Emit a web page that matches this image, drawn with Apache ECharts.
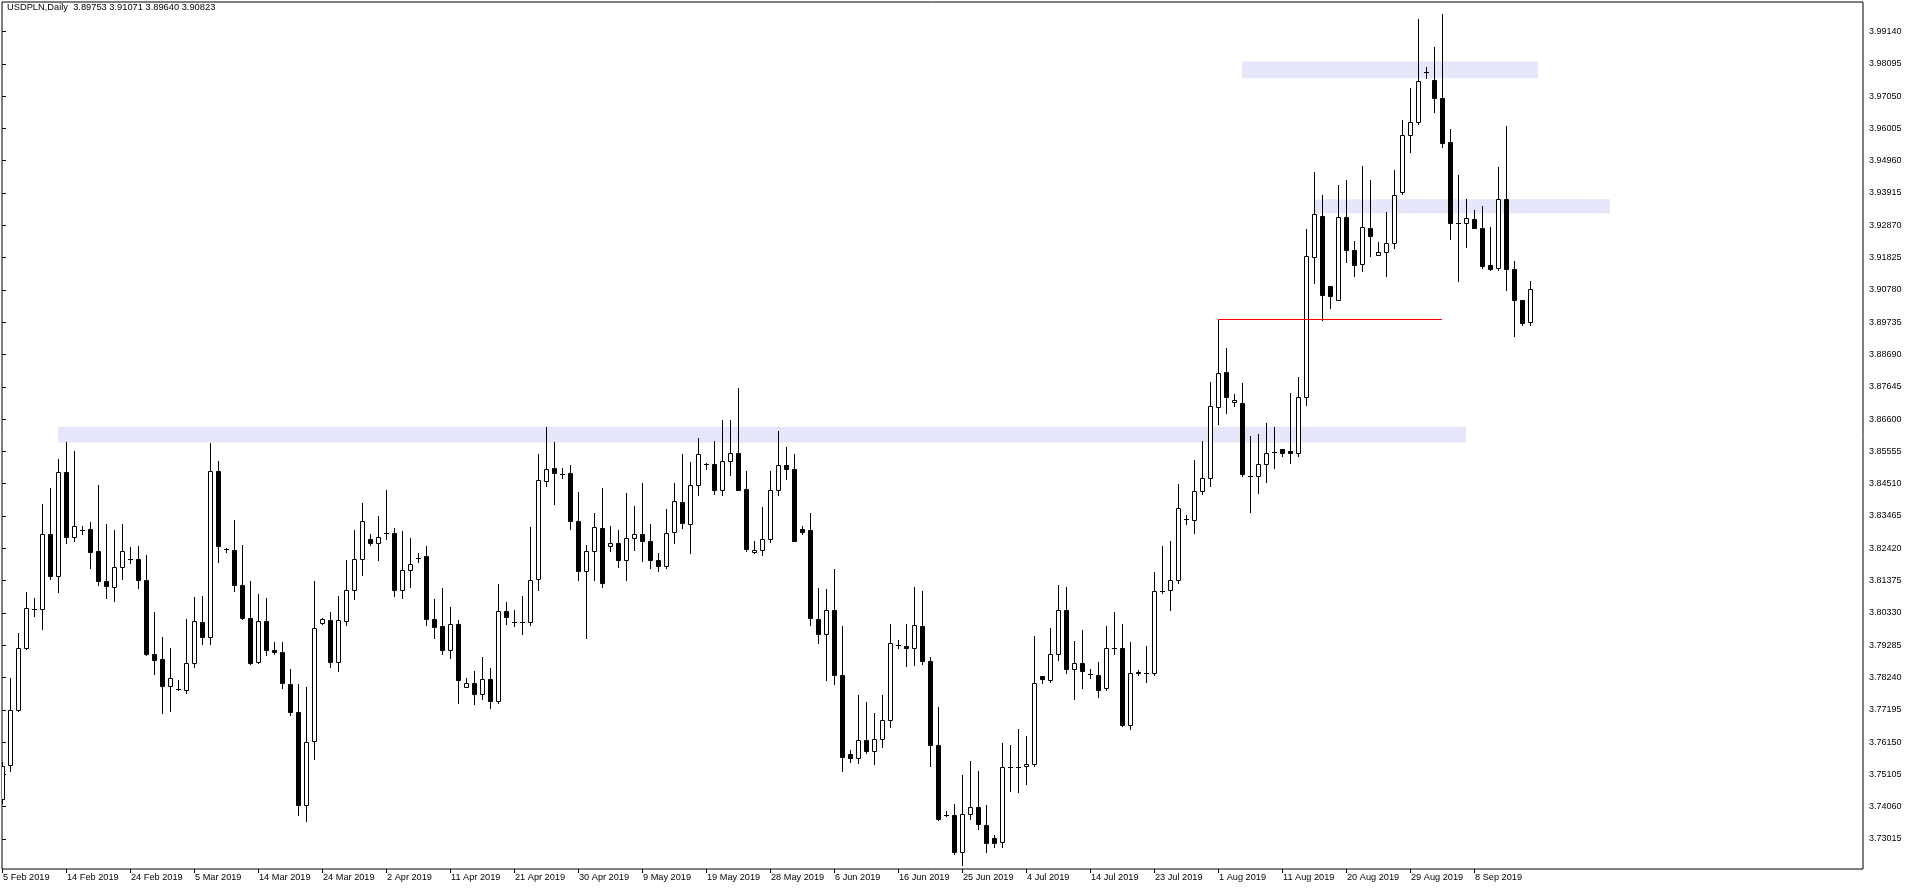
<!DOCTYPE html>
<html><head><meta charset="utf-8">
<script src="https://cdn.jsdelivr.net/npm/echarts@6/dist/echarts.min.js"></script>
<style>html,body{margin:0;padding:0;background:#fff;}#c{width:1916px;height:888px;}</style>
</head><body><div id="c"></div>
<script>
const symbolName = 'USDPLN';
const periodName = 'Daily';

const opens = [
3.7430,3.7540,3.7719,3.7918,3.8045,3.8045,3.8289,3.8151,3.8488,3.8278,
3.8302,3.8304,3.8232,3.8135,3.8118,3.8181,3.8208,3.8207,3.8140,3.7899,
3.7885,3.7798,3.7787,3.7783,3.7870,3.8004,3.7954,3.8492,3.8240,3.8238,
3.8124,3.8017,3.7873,3.8008,3.7912,3.7905,3.7802,3.7713,3.7412,3.7620,
3.7999,3.8010,3.7873,3.8006,3.8107,3.8207,3.8273,3.8258,3.8291,3.8291,
3.8107,3.8172,3.8212,3.8216,3.8013,3.7991,3.7912,3.7997,3.7794,3.7805,
3.7772,3.7818,3.7748,3.8039,3.8002,3.8002,3.8004,3.8142,3.8460,3.8501,
3.8483,3.8484,3.8330,3.8170,3.8234,3.8309,3.8249,3.8258,3.8205,3.8276,
3.8287,3.8265,3.8203,3.8184,3.8295,3.8392,3.8322,3.8448,3.8516,3.8516,
3.8431,3.8525,3.8551,3.8433,3.8230,3.8238,3.8271,3.8429,3.8510,3.8497,
3.8306,3.8300,3.8013,3.7964,3.8043,3.7831,3.7577,3.7564,3.7621,3.7586,
3.7625,3.7686,3.7930,3.7927,3.7918,3.7991,3.7877,3.7607,3.7380,3.7380,
3.7261,3.7382,3.7406,3.7347,3.7305,3.7292,3.7535,3.7535,3.7538,3.7544,
3.7829,3.7816,3.7899,3.8041,3.7853,3.7872,3.7835,3.7831,3.7789,3.7918,
3.7921,3.7669,3.7842,3.7837,3.7837,3.8105,3.8107,3.8138,3.8337,3.8335,
3.8427,3.8470,3.8698,3.8812,3.8716,3.8711,3.8477,3.8475,3.8516,3.8554,
3.8562,3.8558,3.8549,3.8731,3.9185,3.9316,3.9090,3.9046,3.9314,3.9206,
3.9162,3.9277,3.9191,3.9202,3.9230,3.9395,3.9579,3.9620,3.9782,3.9758,
3.9699,3.9555,3.9296,3.9296,3.9307,3.9279,3.9158,3.9150,3.9371,3.9145,
3.9044,3.89753];

const highs = [
3.7550,3.7822,3.7967,3.8102,3.8080,3.8385,3.8437,3.8532,3.8587,3.8558,
3.8315,3.8326,3.8446,3.8322,3.8302,3.8319,3.8245,3.8251,3.8219,3.8037,
3.7956,3.7919,3.7816,3.8013,3.8085,3.8089,3.8584,3.8525,3.8243,3.8332,
3.8254,3.8135,3.8094,3.8080,3.7940,3.7940,3.7851,3.7804,3.7794,3.8135,
3.8017,3.8035,3.8089,3.8203,3.8302,3.8390,3.8289,3.8348,3.8429,3.8308,
3.8297,3.8276,3.8227,3.8251,3.8078,3.8115,3.8052,3.8010,3.7822,3.7844,
3.7890,3.7855,3.8126,3.8067,3.8043,3.8087,3.8310,3.8547,3.8635,3.8587,
3.8501,3.8510,3.8424,3.8253,3.8356,3.8438,3.8313,3.8300,3.8420,3.8378,
3.8453,3.8319,3.8227,3.8368,3.8453,3.8547,3.8521,3.8598,3.8518,3.8589,
3.8657,3.8657,3.8760,3.8492,3.8267,3.8374,3.8492,3.8620,3.8571,3.8547,
3.8313,3.8357,3.8115,3.8111,3.8175,3.7991,3.7590,3.7767,3.7745,3.7708,
3.7767,3.7997,3.7945,3.7997,3.8118,3.8105,3.7890,3.7730,3.7393,3.7415,
3.7509,3.7555,3.7520,3.7410,3.7314,3.7612,3.7605,3.7658,3.7636,3.7958,
3.7829,3.7985,3.8124,3.8118,3.7941,3.7977,3.7853,3.7875,3.7991,3.8037,
3.7997,3.7940,3.7848,3.7927,3.8166,3.8249,3.8264,3.8449,3.8350,3.8528,
3.8589,3.8779,3.8983,3.8889,3.8740,3.8777,3.8604,3.8611,3.8648,3.8635,
3.8562,3.8746,3.8795,3.9274,3.9458,3.9384,3.9090,3.9417,3.9434,3.9235,
3.9480,3.9434,3.9233,3.9329,3.9467,3.9629,3.9730,3.9956,3.9798,3.9864,
3.9969,3.9598,3.9450,3.9371,3.9336,3.9349,3.9281,3.9476,3.9607,3.9173,
3.9044,3.91071];

const lows = [
3.7417,3.7522,3.7715,3.7916,3.8024,3.7982,3.8144,3.8102,3.8258,3.8267,
3.8289,3.8179,3.8124,3.8080,3.8072,3.8144,3.8194,3.8113,3.7896,3.7835,
3.7708,3.7715,3.7785,3.7774,3.7857,3.7932,3.7932,3.8199,3.8230,3.8105,
3.8013,3.7868,3.7870,3.7896,3.7899,3.7789,3.7704,3.7380,3.7360,3.7561,
3.7997,3.7857,3.7844,3.7995,3.8078,3.8157,3.8252,3.8203,3.8273,3.8087,
3.8080,3.8116,3.8197,3.7995,3.7951,3.7901,3.7886,3.7743,3.7794,3.7739,
3.7754,3.7724,3.7743,3.7997,3.7991,3.7964,3.7995,3.8107,3.8444,3.8385,
3.8470,3.8304,3.8138,3.7951,3.8138,3.8118,3.8234,3.8181,3.8138,3.8236,
3.8201,3.8179,3.8170,3.8177,3.8258,3.8308,3.8227,3.8414,3.8497,3.8418,
3.8414,3.8479,3.8429,3.8234,3.8227,3.8221,3.8262,3.8414,3.8466,3.8265,
3.8289,3.7993,3.7934,3.7815,3.7802,3.7522,3.7550,3.7546,3.7581,3.7544,
3.7599,3.7664,3.7918,3.7862,3.7866,3.7868,3.7539,3.7362,3.7375,3.7252,
3.7218,3.7366,3.7333,3.7261,3.7277,3.7274,3.7458,3.7454,3.7480,3.7537,
3.7807,3.7811,3.7881,3.7838,3.7756,3.7789,3.7822,3.7761,3.7783,3.7899,
3.7666,3.7658,3.7833,3.7811,3.7833,3.8098,3.8041,3.8129,3.8322,3.8291,
3.8418,3.8442,3.8644,3.8679,3.8701,3.8477,3.8359,3.8422,3.8455,3.8503,
3.8540,3.8519,3.8540,3.8707,3.9101,3.8982,3.9020,3.9044,3.9167,3.9123,
3.9138,3.9187,3.9191,3.9123,3.9215,3.9389,3.9524,3.9614,3.9763,3.9653,
3.9539,3.9244,3.9108,3.9218,3.9279,3.9149,3.9143,3.9143,3.9077,3.8928,
3.8966,3.89640];

const closes = [
3.7537,3.7719,3.7921,3.8048,3.8045,3.8289,3.8151,3.8488,3.8278,3.8315,
3.8302,3.8230,3.8135,3.8120,3.8181,3.8232,3.8208,3.8138,3.7899,3.7881,
3.7798,3.7822,3.7787,3.7872,3.8008,3.7954,3.8492,3.8249,3.8240,3.8124,
3.8017,3.7870,3.8008,3.7912,3.7905,3.7805,3.7713,3.7412,3.7616,3.7984,
3.8013,3.7875,3.8011,3.8107,3.8207,3.8330,3.8258,3.8280,3.8291,3.8107,
3.8173,3.8192,3.8212,3.8013,3.7986,3.7912,3.7997,3.7815,3.7807,3.7772,
3.7818,3.7748,3.8039,3.8019,3.8002,3.8002,3.8138,3.8464,3.8497,3.8486,
3.8483,3.8330,3.8170,3.8234,3.8311,3.8129,3.8260,3.8205,3.8275,3.8289,
3.8265,3.8205,3.8184,3.8291,3.8396,3.8324,3.8448,3.8547,3.8516,3.8431,
3.8525,3.8551,3.8431,3.8240,3.8238,3.8271,3.8429,3.8510,3.8497,3.8267,
3.8295,3.8015,3.7964,3.8043,3.7831,3.7568,3.7564,3.7621,3.7586,3.7625,
3.7688,3.7934,3.7930,3.7918,3.7993,3.7877,3.7607,3.7366,3.7380,3.7261,
3.7382,3.7406,3.7349,3.7288,3.7288,3.7535,3.7535,3.7535,3.7544,3.7805,
3.7818,3.7899,3.8041,3.7853,3.7872,3.7844,3.7835,3.7785,3.7918,3.7918,
3.7669,3.7840,3.7837,3.7837,3.8105,3.8105,3.8138,3.8372,3.8337,3.8427,
3.8470,3.8701,3.8808,3.8731,3.8723,3.8481,3.8477,3.8516,3.8551,3.8554,
3.8551,3.8549,3.8731,3.9187,3.9322,3.9062,3.9058,3.9314,3.9206,3.9160,
3.9281,3.9253,3.9200,3.9230,3.9386,3.9579,3.9620,3.9754,3.9782,3.9699,
3.9553,3.9296,3.9296,3.9310,3.9279,3.9156,3.9147,3.9371,3.9147,3.9044,
3.8972,3.90823];

const dateLabels = ['5 Feb 2019','14 Feb 2019','24 Feb 2019','5 Mar 2019','14 Mar 2019','24 Mar 2019',
  '2 Apr 2019','11 Apr 2019','21 Apr 2019','30 Apr 2019','9 May 2019','19 May 2019','28 May 2019',
  '6 Jun 2019','16 Jun 2019','25 Jun 2019','4 Jul 2019','14 Jul 2019','23 Jul 2019','1 Aug 2019',
  '11 Aug 2019','20 Aug 2019','29 Aug 2019','8 Sep 2019'];
const barsPerDateLabel = 8;

const priceTicks = [3.73015,3.74060,3.75105,3.76150,3.77195,3.78240,3.79285,3.80330,3.81375,3.82420,
  3.83465,3.84510,3.85555,3.86600,3.87645,3.88690,3.89735,3.90780,3.91825,3.92870,
  3.93915,3.94960,3.96005,3.97050,3.98095,3.99140];

// Zones (bar index range, price range)
const zoneStartBar = [7, 155, 164];
const zoneEndBar = [183, 192, 201];
const zoneHigh = [3.8635, 3.9817, 3.9371];
const zoneLow = [3.8584, 3.9763, 3.9325];

// Horizontal line
const lineStartBar = [152];
const lineEndBar = [180];
const linePrice = [3.8983];

const priceMin = 3.72044, priceMax = 4.00094;
const barSlots = 232.625;

const chart = echarts.init(document.getElementById('c'), null, {renderer: 'canvas'});

const candleData = opens.map((o, i) => [i, o, closes[i], lows[i], highs[i]]);
const zoneData = zoneStartBar.map((s, k) => [s, zoneEndBar[k], zoneLow[k], zoneHigh[k]]);
const lineData = lineStartBar.map((s, k) => [s, lineEndBar[k], linePrice[k]]);
const tickBars = dateLabels.map((d, k) => k * barsPerDateLabel);
const last = opens.length - 1;
const titleText = symbolName + ',' + periodName + '  ' +
  [opens[last], highs[last], lows[last], closes[last]].map(v => v.toFixed(5)).join(' ');

function renderCandle(params, api) {
  const i = api.value(0), o = api.value(1), c = api.value(2), l = api.value(3), h = api.value(4);
  const x = Math.round(api.coord([i, o])[0]);
  const yO = Math.round(api.coord([i, o])[1]);
  const yC = Math.round(api.coord([i, c])[1]);
  const yL = Math.round(api.coord([i, l])[1]);
  const yH = Math.round(api.coord([i, h])[1]);
  const top = Math.min(yO, yC), bot = Math.max(yO, yC);
  const up = c >= o;
  const children = [{type: 'line', shape: {x1: x + 0.5, y1: yH, x2: x + 0.5, y2: yL + 1},
    style: {stroke: '#000', lineWidth: 1}}];
  if (bot - top < 1) {
    children.push({type: 'line', shape: {x1: x - 2, y1: top + 0.5, x2: x + 3, y2: top + 0.5},
      style: {stroke: '#000', lineWidth: 1}});
  } else {
    children.push({type: 'rect', shape: {x: x - 2 + 0.5, y: top + 0.5, width: 4, height: bot - top},
      style: {fill: up ? '#fff' : '#000', stroke: '#000', lineWidth: 1}});
  }
  return {type: 'group', children: children};
}

function renderZone(params, api) {
  const p1 = api.coord([api.value(0), api.value(3)]);
  const p2 = api.coord([api.value(1), api.value(2)]);
  return {type: 'rect', shape: {x: p1[0], y: p1[1], width: p2[0] - p1[0], height: p2[1] - p1[1]},
    style: {fill: '#E6E6FA'}};
}

function renderLine(params, api) {
  const p1 = api.coord([api.value(0), api.value(2)]);
  const p2 = api.coord([api.value(1), api.value(2)]);
  const y = Math.round(p1[1]) + 0.5;
  return {type: 'line', shape: {x1: Math.round(p1[0]), y1: y, x2: Math.round(p2[0]), y2: y},
    style: {stroke: '#FF0000', lineWidth: 1}};
}

const fontFamily = 'Liberation Sans, Arial, sans-serif';

chart.setOption({
  animation: false,
  backgroundColor: '#fff',
  grid: {left: 2, right: 53, top: 2, bottom: 19, show: true, borderColor: '#000', borderWidth: 1, backgroundColor: '#fff'},
  graphic: [{type: 'text', left: 7, top: 3, z: 100,
    style: {text: titleText, fill: '#000', font: '9.3px ' + fontFamily}}],
  xAxis: {
    type: 'value', min: 0, max: barSlots,
    axisLine: {show: false}, splitLine: {show: false},
    axisTick: {show: true, customValues: tickBars, length: 4, lineStyle: {color: '#000'}},
    axisLabel: {show: true, customValues: tickBars, margin: 4, align: 'left', padding: [0, 0, 0, 1],
      color: '#000', fontSize: 9.2, fontFamily: fontFamily,
      formatter: v => dateLabels[Math.round(v / barsPerDateLabel)] || ''}
  },
  yAxis: {
    type: 'value', position: 'right', min: priceMin, max: priceMax, scale: true,
    axisLine: {show: false}, splitLine: {show: false},
    axisTick: {show: true, customValues: priceTicks, length: 4, lineStyle: {color: '#000'}},
    axisLabel: {show: true, customValues: priceTicks, margin: 6, color: '#000', fontSize: 9, fontFamily: fontFamily,
      formatter: v => v.toFixed(5)}
  },
  series: [
    {type: 'custom', name: 'zones', renderItem: renderZone, data: zoneData, z: 1, clip: true,
      encode: {x: [0, 1], y: [2, 3]}, silent: true},
    {type: 'custom', name: 'line', renderItem: renderLine, data: lineData, z: 3, clip: true,
      encode: {x: [0, 1], y: 2}, silent: true},
    {type: 'custom', name: 'candles', renderItem: renderCandle, data: candleData, z: 2, clip: true,
      encode: {x: 0, y: [1, 2, 3, 4]}}
  ]
});
</script>
</body></html>
